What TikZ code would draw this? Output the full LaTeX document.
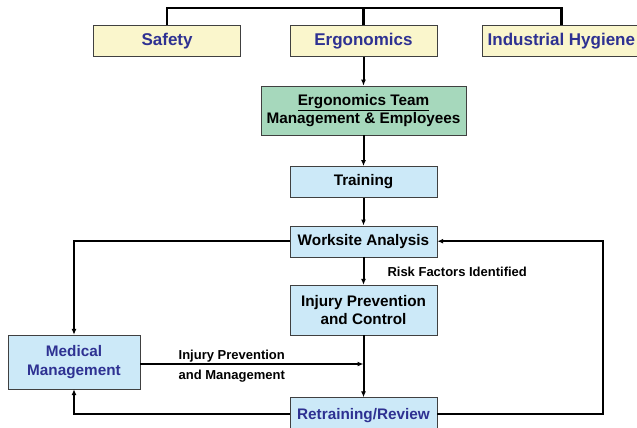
\documentclass[tikz,border=0pt]{standalone}
\usepackage{fontspec}
\setmainfont{Liberation Sans}
\definecolor{paleyellow}{RGB}{250,246,204}
\definecolor{teamgreen}{RGB}{166,216,188}
\definecolor{softblue}{RGB}{204,233,248}
\definecolor{titleblue}{RGB}{46,49,146}
\definecolor{boxedge}{RGB}{64,64,64}
\usetikzlibrary{arrows.meta,positioning}

\begin{document}
\begin{tikzpicture}[x=1pt,y=-1pt,
  every node/.style={font=\bfseries\fontsize{15.3}{18.5}\selectfont,align=center,inner sep=0pt},
  topbox/.style={draw=boxedge,fill=paleyellow,text=titleblue,minimum width=147pt,minimum height=31pt,font=\bfseries\fontsize{17}{20}\selectfont},
  flowbox/.style={draw=boxedge,fill=softblue,minimum width=147pt,minimum height=31pt},
  flowlink/.style={line width=2pt,-{Latex[length=6pt,width=5pt]}},
  note/.style={font=\bfseries\fontsize{13}{15}\selectfont}]
\useasboundingbox (0,0) rectangle (637,428);
% top row
\node[topbox] (ergo) at (363.5,41) {Ergonomics};
\node[topbox,left=49pt of ergo] (safety) {Safety};
\node[topbox,minimum width=158pt,right=45pt of ergo] (hygiene) {Industrial Hygiene};
\coordinate (bar) at (363.5,8);
\draw[line width=2.4pt] (safety.north) |- (bar) -| (hygiene.north);
\draw[line width=2.4pt] (ergo.north) -- (bar);
% main column
\node[draw=boxedge,fill=teamgreen,minimum width=205pt,minimum height=49pt,below=29pt of ergo] (team) {\underline{Ergonomics Team}\\Management \& Employees};
\node[flowbox,below=31pt of team] (training) {Training};
\node[flowbox,below=28pt of training] (worksite) {Worksite Analysis};
\node[flowbox,minimum height=50pt,below=28pt of worksite] (prevent) {Injury Prevention\\and Control};
\node[flowbox,text=titleblue,minimum height=36pt,below=62pt of prevent] (retrain) {Retraining/Review};
\node[flowbox,text=titleblue,minimum width=132pt,minimum height=54pt] (medical) at (74,362) {Medical\\Management};
% links
\draw[flowlink] (ergo) -- (team);
\draw[flowlink] (team) -- (training);
\draw[flowlink] (training) -- (worksite);
\draw[flowlink] (worksite) -- node[note,anchor=west,xshift=23pt,yshift=-1pt] (risk) {Risk Factors Identified} (prevent);
\draw[flowlink] (prevent) -- (retrain);
\draw[flowlink] ([yshift=-2pt]medical.east) -- node[note,above=1pt,pos=0.41] (injlabel) {Injury Prevention}
  node[note,below=5pt,pos=0.41] (mgmtlabel) {and Management} ([yshift=-2pt]medical.east -| prevent.south);
\draw[flowlink] (worksite.west) -| (medical.north);
\draw[flowlink] ([yshift=2pt]retrain.west) -| (medical.south);
\draw[flowlink] ([yshift=2pt]retrain.east) -- ++(165.5,0) |- (worksite.east);
\end{tikzpicture}
\end{document}
